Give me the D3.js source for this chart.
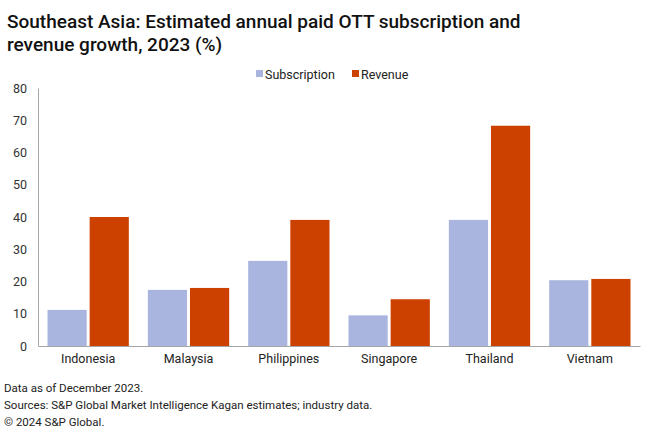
<!DOCTYPE html>
<html><head><meta charset="utf-8">
<script src="https://cdn.jsdelivr.net/npm/d3@7"></script>
<style>body{margin:0;background:#fff;} text{font-family:Roboto, "Liberation Sans", sans-serif;}</style>
</head><body><svg id="c" width="660" height="438"></svg>
<script>
const categories = ["Indonesia","Malaysia","Philippines","Singapore","Thailand","Vietnam"];
const seriesNames = ["Subscription","Revenue"];
const subscription = [11.2, 17.4, 26.4, 9.5, 39.1, 20.4];
const revenue = [40.0, 18.0, 39.1, 14.5, 68.3, 20.8];
const yTicks = [0,10,20,30,40,50,60,70,80];
const colors = ["#a9b5df","#cc4100"];

const svg = d3.select("#c");
svg.append("rect").attr("width",660).attr("height",438).attr("fill","#fff");
const m = {left:38, right:640, top:88, bottom:346};
const x = d3.scaleBand().domain(categories).range([m.left,m.right]).paddingInner(0).paddingOuter(0);
const x1 = d3.scaleBand().domain(seriesNames).range([9.5, x.bandwidth()-9.5]).paddingInner(0.07);
const y = d3.scaleLinear().domain([0,80]).range([m.bottom,m.top]);

// title
const title = svg.append("text").attr("x",7).attr("y",28).attr("font-size",19).attr("font-weight",500).attr("fill","#111");
title.append("tspan").attr("x",7).attr("dy",0).text("Southeast Asia: Estimated annual paid OTT subscription and");
title.append("tspan").attr("x",7).attr("dy",23).text("revenue growth, 2023 (%)");

// y axis
const yAxis = svg.append("g").attr("transform",`translate(${m.left},0)`)
  .call(d3.axisLeft(y).tickValues(yTicks).tickSize(0).tickPadding(11));
yAxis.select(".domain").attr("stroke","#a6a6a6");
yAxis.selectAll("text").attr("font-size",12.5).attr("fill","#333").style("font-family","Roboto, sans-serif");

// bars
const data = categories.map((c,i)=>({c, vals:[subscription[i], revenue[i]]}));
const g = svg.append("g");
data.forEach(d=>{
  d.vals.forEach((v,j)=>{
    g.append("rect")
      .attr("x", x(d.c)+x1(seriesNames[j]))
      .attr("width", x1.bandwidth())
      .attr("y", y(v))
      .attr("height", y(0)-y(v))
      .attr("fill", colors[j]);
  });
});

// x axis
const xAxis = svg.append("g").attr("transform",`translate(0,${m.bottom})`)
  .call(d3.axisBottom(x).tickSize(0).tickPadding(8).tickSizeOuter(0));
xAxis.select(".domain").attr("stroke","#a6a6a6");
xAxis.selectAll("text").attr("font-size",12.5).attr("fill","#222").style("font-family","Roboto, sans-serif");

// legend
const legendX = [256, 352];
seriesNames.forEach((s,i)=>{
  svg.append("rect").attr("x",legendX[i]).attr("y",70).attr("width",7).attr("height",7).attr("fill",colors[i]);
  svg.append("text").attr("x",legendX[i]+9).attr("y",78.5).attr("font-size",12.5).attr("fill","#222").text(s);
});

// footer
const foot = ["Data as of December 2023.","Sources: S&P Global Market Intelligence Kagan estimates; industry data.","© 2024 S&P Global."];
foot.forEach((t,i)=>{
  svg.append("text").attr("x",4).attr("y",392+i*17).attr("font-size",11.5).attr("fill","#222").text(t);
});
</script></body></html>
